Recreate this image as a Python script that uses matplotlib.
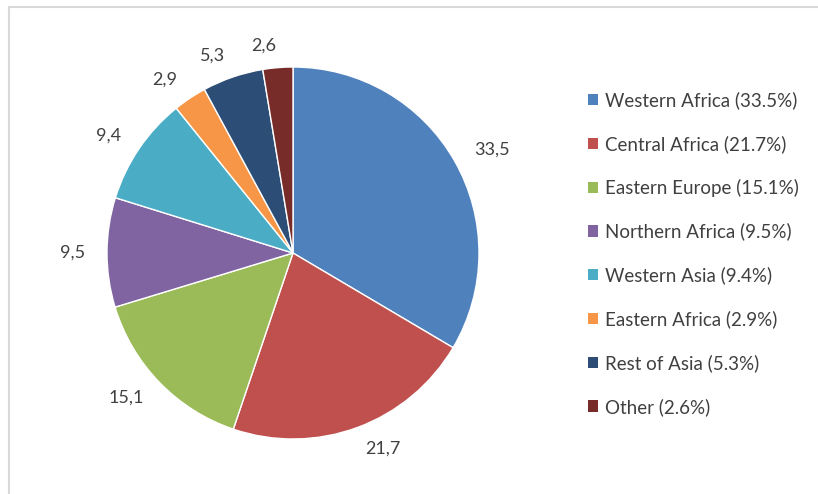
import matplotlib
matplotlib.use('Agg')
import matplotlib.pyplot as plt
from matplotlib.patches import Rectangle, Patch

# Regions and their shares (%)
regions = ['Western Africa', 'Central Africa', 'Eastern Europe', 'Northern Africa',
           'Western Asia', 'Eastern Africa', 'Rest of Asia', 'Other']
shares = [33.5, 21.7, 15.1, 9.5, 9.4, 2.9, 5.3, 2.6]
colors = ['#4F81BD', '#C0504D', '#9BBB59', '#8064A2',
          '#4BACC6', '#F79646', '#2C4D75', '#772C2A']

plt.rcParams['font.family'] = ['Lato', 'DejaVu Sans']
text_color = '#404040'

fig = plt.figure(figsize=(8.18, 4.94), dpi=100)

# light gray chart border (only top and left visible)
fig.patches.append(Rectangle((9 / 818, -0.2), 1.5, 0.2 + 487 / 494, transform=fig.transFigure,
                             fill=False, edgecolor='#D9D9D9', linewidth=1.5))

# pie area: centre (293, 253) px, radius 186 px
size = 186 * 2.5
ax = fig.add_axes([(293 - size / 2) / 818, (494 - 253 - size / 2) / 494, size / 818, size / 494])

value_labels = [('%.1f' % v).replace('.', ',') for v in shares]
wedges, texts = ax.pie(shares, colors=colors, startangle=90, counterclock=False,
                       labels=value_labels, labeldistance=1.12,
                       wedgeprops=dict(edgecolor='white', linewidth=1),
                       textprops=dict(fontsize=13, color=text_color))
ax.set_aspect('equal')

legend_labels = ['%s (%.1f%%)' % (r, v) for r, v in zip(regions, shares)]
handles = [Patch(facecolor=c, edgecolor='none') for c in colors]
fig.legend(handles, legend_labels, loc='center left', bbox_to_anchor=(0.698, 0.487),
           frameon=False, fontsize=13.5, labelcolor=text_color,
           handlelength=0.55, handleheight=0.55, handletextpad=0.35, labelspacing=1.38)

fig.savefig('out.png', dpi=100)
